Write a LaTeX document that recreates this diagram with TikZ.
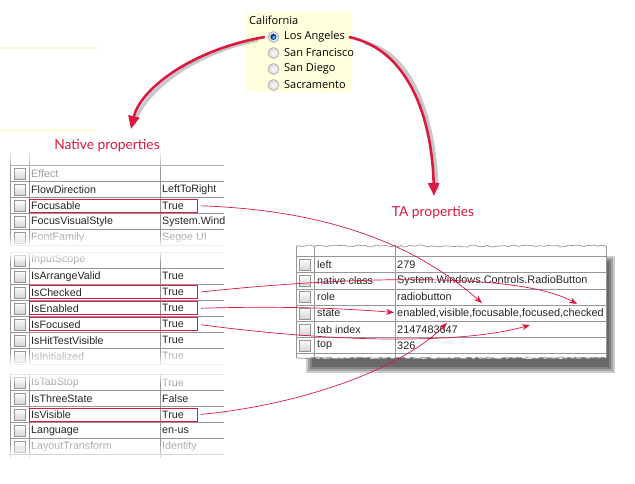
\documentclass[tikz,border=0pt]{standalone}
\usepackage{fontspec}
\setmainfont{Liberation Sans}
\newfontfamily\uifont{Open Sans}
\newfontfamily\handfont{Lato}
\usetikzlibrary{arrows.meta,decorations.pathmorphing,fadings}
\definecolor{crim}{RGB}{218,24,66}
\definecolor{paley}{RGB}{255,255,222}
\definecolor{gline}{RGB}{150,150,150}
\definecolor{ftext}{RGB}{160,160,160}
\definecolor{yline}{RGB}{252,250,215}
\tikzfading[name=opaqueattop, top color=transparent!0, bottom color=transparent!100]
\tikzfading[name=opaqueatbottom, top color=transparent!100, bottom color=transparent!0]
\newcommand\gridfont{\fontsize{10.7}{12}\selectfont}
\newcommand\prow[5]{%
  \node[cbox] (c#2) at (20,#1) {};
  \node[cell,#5] (n#2) at (31,#1) {#3};
  \node[cell,#5] (v#2) at (162,#1) {#4};}
\newcommand\trow[4]{%
  \node[cbox] (tc#2) at (305,#1) {};
  \node[cell] (tn#2) at (317,#1) {#3};
  \node[cell,tafont] (tv#2) at (397,#1) {#4};}
\begin{document}
\begin{tikzpicture}[x=1pt,y=-1pt,
  cbox/.style={rectangle,minimum size=11pt,inner sep=0pt,draw={rgb,255:red,150;green,150;blue,150},top color=white,bottom color={rgb,255:red,212;green,212;blue,212}},
  cell/.style={anchor=west,inner sep=0pt,font=\gridfont,text=black!85},
  tafont/.style={font=\fontsize{10.9}{12}\selectfont},
  faded/.style={text=ftext},
  plain/.style={},
  gl/.style={draw=gline,line width=0.7pt},
  redbox/.style={draw=crim,line width=0.9pt,anchor=west,minimum width=168pt,minimum height=13pt,inner sep=0pt},
  link/.style={draw=crim,line width=0.7pt,-{Stealth[length=8pt,width=6pt]}},
  bigarrow/.style={draw=crim,line width=2.6pt,-{Triangle[length=13pt,width=11pt]}},
  arrowshadow/.style={draw=black,opacity=0.22,line width=3.5pt},
  radio/.style={circle,minimum size=11pt,inner sep=0pt,draw=gray!80,inner color=white,outer color=gray!35},
  ui/.style={anchor=west,inner sep=0pt,font=\uifont\fontsize{11}{13}\selectfont},
  hand/.style={font=\handfont\fontsize{13.8}{16}\selectfont,text=crim}]
\useasboundingbox (0,0) rectangle (635,484);
\fill[white] (0,0) rectangle (635,484);

% pale yellow lines top-left
\draw[yline,line width=1.5pt] (0,48) -- (98,48);
\draw[yline,line width=1.5pt] (0,130) -- (98,130);

% ---------- left property grid ----------
\foreach \yy in {165.7,181.7,197.7,213.7,229.7,245.7,
                 252.3,268.3,284.3,300.3,316.3,332.3,348.3,364.3,
                 374.7,390.7,406.7,422.7,438.7,454.7}
  \draw[gl] (10,\yy) -- (224,\yy);
\draw[gl] (10,152) -- (10,458);
\draw[gl] (29,152) -- (29,458);
\draw[gl] (160,152) -- (160,458);
\prow{173.7}{Eff}{Effect}{}{faded}
\prow{189.7}{Flow}{FlowDirection}{LeftToRight}{plain}
\prow{205.7}{Foc}{Focusable}{True}{plain}
\prow{221.7}{FVS}{FocusVisualStyle}{System.Wind}{plain}
\prow{237.7}{FF}{FontFamily}{Segoe UI}{faded}
\prow{260.3}{IS}{InputScope}{}{faded}
\prow{276.3}{IAV}{IsArrangeValid}{True}{plain}
\prow{292.3}{IC}{IsChecked}{True}{plain}
\prow{308.3}{IE}{IsEnabled}{True}{plain}
\prow{324.3}{IF}{IsFocused}{True}{plain}
\prow{340.3}{IHT}{IsHitTestVisible}{True}{plain}
\prow{356.3}{II}{IsInitialized}{True}{faded}
\prow{382.7}{ITS}{IsTabStop}{True}{faded}
\prow{398.7}{ITh}{IsThreeState}{False}{plain}
\prow{414.7}{IV}{IsVisible}{True}{plain}
\prow{430.7}{Lang}{Language}{en-us}{plain}
\prow{446.7}{LT}{LayoutTransform}{Identity}{faded}

% fades at tears and ends
\fill[white,path fading=opaqueattop] (0,150) rectangle (232,170);
\fill[white,path fading=opaqueatbottom] (0,234) rectangle (232,247);
\fill[white] (0,246.5) rectangle (232,250.5);
\fill[white,path fading=opaqueattop] (0,250.5) rectangle (232,262);
\fill[white,path fading=opaqueatbottom] (0,352) rectangle (232,365.5);
\fill[white] (0,365) rectangle (232,371);
\fill[white,path fading=opaqueattop] (0,371) rectangle (232,384);
\fill[white,path fading=opaqueatbottom] (0,442) rectangle (232,462);
\fill[white] (0,461.5) rectangle (232,484);

% red boxes
\node[redbox] (bFoc) at (29,205.7) {};
\node[redbox] (bIC) at (29,292.3) {};
\node[redbox] (bIE) at (29,308.3) {};
\node[redbox] (bIF) at (29,324.3) {};
\node[redbox] (bIV) at (29,414.7) {};

% California panel
\fill[paley] (245,12) rectangle (352,92);
\node[ui] (cal) at (249,20.5) {California};
\node[radio] (rLA) at (273.5,37) {};
\node[circle,minimum size=6pt,inner sep=0pt,inner color=cyan!70!white,outer color=blue!55!black] (dLA) at (rLA) {};
\node[radio] (rSF) at (273.5,53) {};
\node[radio] (rSD) at (273.5,69) {};
\node[radio] (rSA) at (273.5,85) {};
\node[ui] (lLA) at (284,37) {Los Angeles};
\node[ui] (lSF) at (284,53) {San Francisco};
\node[ui] (lSD) at (284,69) {San Diego};
\node[ui] (lSA) at (284,85) {Sacramento};

% labels
\node[hand] (native) at (107,146) {Native properties};
\node[hand] (talbl) at (433,213) {TA properties};
\coordinate (tipNative) at (131,129);
\coordinate (tipTA) at (434,196);

% big arrows with shadow
\draw[arrowshadow] (258,40) .. controls (192,53) and (143,92) .. (134,124);
\draw[arrowshadow] (365,43) .. controls (413,53) and (435,120) .. (437,190);
\draw[bigarrow] ([xshift=-3pt]rLA.west) .. controls (190,50) and (140,90) .. (tipNative);
\draw[bigarrow] ([xshift=4pt]lLA.east) .. controls (410,50) and (432,120) .. (tipTA);

% ---------- TA property grid ----------
\foreach \i/\o in {0/0.2,2/0.2,4/0.2,6/0.2}
  \fill[black,opacity=\o] (306+\i,256+\i) rectangle (615-\i,373-\i);
\pgfmathsetseed{7}
\fill[white] decorate[decoration={random steps,segment length=3pt,amplitude=1pt}]{(296,246) -- (606,246)}
  -- (606,358) decorate[decoration={random steps,segment length=3pt,amplitude=1pt}]{-- (296,358)} -- cycle;
\pgfmathsetseed{7}
\draw[gl] decorate[decoration={random steps,segment length=3pt,amplitude=1pt}]{(296,246) -- (606,246)};
\pgfmathsetseed{11}
\draw[gl] decorate[decoration={random steps,segment length=3pt,amplitude=1pt}]{(296,358) -- (606,358)};
\foreach \yy in {256.5,272.7,288.9,305.1,321.3,337.5,353.7}
  \draw[gl] (296,\yy) -- (606,\yy);
\foreach \xx in {296,314.3,395.3,606}
  \draw[gl] (\xx,246) -- (\xx,358);
\trow{264.6}{left}{left}{279}
\trow{280.8}{nc}{native class}{System.Windows.Controls.RadioButton}
\trow{297.0}{role}{role}{radiobutton}
\trow{313.2}{state}{state}{enabled,visible,focusable,focused,checked}
\trow{329.4}{tab}{tab index}{2147483647}
\trow{345.6}{top}{top}{326}

% targets
\coordinate (tFoc) at (482,303);
\coordinate (tChk) at (577,304);
\coordinate (tEn) at (394,312.5);
\coordinate (tFcd) at (530,325);
\coordinate (tVis) at (447,323);

% links
\draw[link,shorten <=3pt] (bFoc.east) .. controls (320,210) and (410,240) .. (tFoc);
\draw[link,shorten <=3pt] (bIC.east) .. controls (350,276) and (520,272) .. (tChk);
\draw[link,shorten <=3pt] (bIE.east) .. controls (280,306) and (340,308) .. (tEn);
\draw[link,shorten <=3pt] (bIF.east) .. controls (330,342) and (460,345) .. (tFcd);
\draw[link,shorten <=3pt] (bIV.east) .. controls (300,405) and (400,370) .. (tVis);
\end{tikzpicture}
\end{document}
